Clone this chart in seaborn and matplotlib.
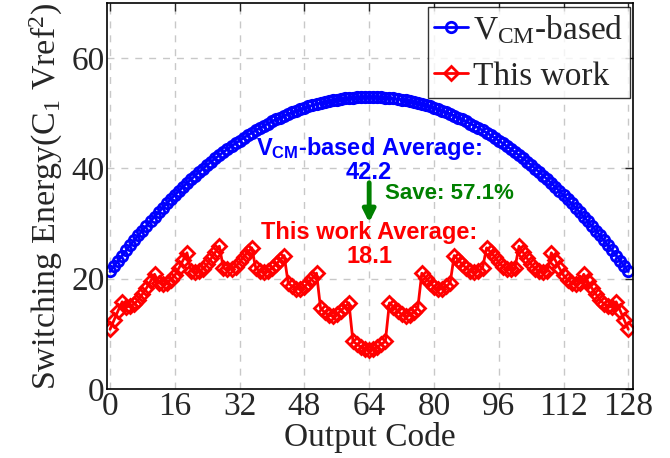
import numpy as np
import pandas as pd
import matplotlib
matplotlib.use("Agg")
import matplotlib.pyplot as plt
import seaborn as sns

codes = list(range(129))

vcm_based = [
    21.30, 22.28, 23.25, 24.20, 25.14, 26.06, 26.97, 27.86, 28.73, 29.59,
    30.43, 31.26, 32.07, 32.87, 33.65, 34.42, 35.17, 35.90, 36.62, 37.33,
    38.02, 38.69, 39.35, 39.99, 40.62, 41.23, 41.82, 42.40, 42.97, 43.52,
    44.05, 44.57, 45.07, 45.56, 46.03, 46.49, 46.93, 47.36, 47.77, 48.16,
    48.54, 48.91, 49.25, 49.59, 49.90, 50.21, 50.49, 50.76, 51.02, 51.26,
    51.48, 51.69, 51.89, 52.06, 52.23, 52.37, 52.50, 52.62, 52.72, 52.81,
    52.88, 52.93, 52.97, 52.99, 53.00,
    52.99, 52.97, 52.93, 52.88, 52.81, 52.72, 52.62, 52.50, 52.37, 52.23,
    52.06, 51.89, 51.69, 51.48, 51.26, 51.02, 50.76, 50.49, 50.21, 49.90,
    49.59, 49.25, 48.91, 48.54, 48.16, 47.77, 47.36, 46.93, 46.49, 46.03,
    45.56, 45.07, 44.57, 44.05, 43.52, 42.97, 42.40, 41.82, 41.23, 40.62,
    39.99, 39.35, 38.69, 38.02, 37.33, 36.62, 35.90, 35.17, 34.42, 33.65,
    32.87, 32.07, 31.26, 30.43, 29.59, 28.73, 27.86, 26.97, 26.06, 25.14,
    24.20, 23.25, 22.28, 21.30,
]

this_work = [
    10.8, 12.5, 14.2, 15.8,
    14.8, 15.1, 15.4, 16.2, 17.2, 18.3, 19.5, 20.8,
    19.3, 19.0, 19.3, 19.8, 20.6, 21.9, 23.3, 24.7,
    21.4, 21.2, 21.4, 21.8, 22.6, 23.7, 24.8, 25.9,
    21.9, 21.7, 21.8, 22.2, 23.0, 24.0, 24.8, 25.6,
    21.9, 21.4, 21.2, 21.4, 21.9, 22.6, 23.4, 24.2,
    19.2, 18.6, 18.2, 18.1, 18.5, 19.3, 20.1, 21.0,
    14.6, 13.9, 13.4, 13.2, 13.5, 14.2, 14.9, 15.6,
    8.6, 8.1, 7.6, 7.2, 7.0, 7.2, 7.6, 8.1, 8.6,
    15.6, 14.9, 14.2, 13.5, 13.2, 13.4, 13.9, 14.6,
    21.0, 20.1, 19.3, 18.5, 18.1, 18.2, 18.6, 19.2,
    24.2, 23.4, 22.6, 21.9, 21.4, 21.2, 21.4, 21.9,
    25.6, 24.8, 24.0, 23.0, 22.2, 21.8, 21.7, 21.9,
    25.9, 24.8, 23.7, 22.6, 21.8, 21.4, 21.2, 21.4,
    24.7, 23.3, 21.9, 20.6, 19.8, 19.3, 19.0, 19.3,
    20.8, 19.5, 18.3, 17.2, 16.2, 15.4, 15.1, 14.8,
    15.8, 14.2, 12.5, 10.8,
]

x_ticks = [0, 16, 32, 48, 64, 80, 96, 112, 128]
y_ticks = [0, 20, 40, 60]

sns.set_style("white")
plt.rcParams["font.family"] = ["Liberation Serif", "DejaVu Serif"]
plt.rcParams["mathtext.fontset"] = "custom"
plt.rcParams["mathtext.rm"] = "Liberation Serif"
plt.rcParams["mathtext.it"] = "Liberation Serif:italic"
plt.rcParams["mathtext.bf"] = "Liberation Sans:bold"

df = pd.DataFrame({"code": codes, "vcm": vcm_based, "tw": this_work})

fig = plt.figure(figsize=(6.7, 4.58), dpi=100)
ax = fig.add_axes([0.160, 0.151, 0.785, 0.842])

sns.lineplot(data=df, x="code", y="vcm", ax=ax, color="#0000ff", lw=2,
             marker="o", markersize=7.5, markerfacecolor="none",
             markeredgecolor="#0000ff", markeredgewidth=2,
             label=r"V$_{\mathrm{CM}}$-based")
sns.lineplot(data=df, x="code", y="tw", ax=ax, color="#ff0000", lw=2,
             marker="D", markersize=7, markerfacecolor="none",
             markeredgecolor="#ff0000", markeredgewidth=2,
             label="This work")

ax.set_xlim(-0.7, 129.2)
ax.set_ylim(0, 70)
ax.set_xticks(x_ticks)
ax.set_yticks(y_ticks)
ax.tick_params(direction="in", top=True, right=True, length=6, width=1,
               labelsize=24, pad=2)
for s in ax.spines.values():
    s.set_color("black")
    s.set_linewidth(1.2)
ax.grid(True, color="#c8c8c8", linestyle=(0, (5, 5)), linewidth=1)
ax.set_axisbelow(True)

ax.set_xlabel("Output Code", fontsize=24, labelpad=0)
ax.set_ylabel(r"Switching Energy(C$_1$ Vref$^2$)", fontsize=24.5, labelpad=4)

leg = ax.legend(loc="upper right", fontsize=24, frameon=True, fancybox=False,
                edgecolor="black", borderpad=0.2, labelspacing=0.45,
                handlelength=1.0, handletextpad=0.15, borderaxespad=0.1)
leg.get_frame().set_linewidth(1.0)

ann = dict(ha="center", va="center", fontsize=17, fontweight="bold",
           family="Liberation Sans")
ax.text(64.0, 43.6, r"$\mathbf{V_{CM}}$-based Average:", color="#0000ff", **ann)
ax.text(64.0, 39.2, "42.2", color="#0000ff", **ann)
ax.text(64.0, 28.4, "This work Average:", color="#ff0000", **ann)
ax.text(64.0, 24.0, "18.1", color="#ff0000", **ann)
ax.text(67.8, 35.4, "Save: 57.1%", color="#008000", ha="left", va="center",
        fontsize=16, fontweight="bold", family="Liberation Sans")
ax.annotate("", xy=(64.0, 30.2), xytext=(64.0, 37.4),
            arrowprops=dict(arrowstyle="-|>", color="#008000", lw=3.5,
                            mutation_scale=18, shrinkA=0, shrinkB=0))

fig.savefig("out.png", dpi=100)
